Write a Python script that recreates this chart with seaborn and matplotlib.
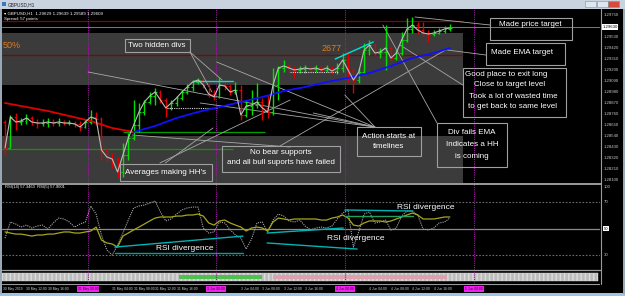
import matplotlib
matplotlib.use("Agg")
import matplotlib.pyplot as plt
from matplotlib.patches import Rectangle
from matplotlib.transforms import blended_transform_factory
import seaborn as sns
import pandas as pd

W, H = 625, 296

# ---------------- data ----------------
bars = list(range(84))
closes = [1.2842, 1.2873, 1.2868, 1.2869, 1.2872, 1.2868, 1.2867, 1.2867, 1.2868, 1.2867,
          1.2868, 1.2867, 1.2867, 1.2866, 1.2863, 1.2868, 1.2873, 1.2871, 1.2840, 1.2833,
          1.2831, 1.2818, 1.2835, 1.2852, 1.2865, 1.2878, 1.2888, 1.2894, 1.2898, 1.2890,
          1.2882, 1.2887, 1.2892, 1.2898, 1.2903, 1.2908, 1.2910, 1.2905, 1.2896, 1.2893,
          1.2905, 1.2904, 1.2898, 1.2900, 1.2875, 1.2884, 1.2885, 1.2888, 1.2882, 1.2878,
          1.2905, 1.2922, 1.2924, 1.2922, 1.2920, 1.2921, 1.2922, 1.2921, 1.2922, 1.2920,
          1.2922, 1.2919, 1.2922, 1.2930, 1.2920, 1.2910, 1.2918, 1.2940, 1.2945, 1.2937,
          1.2938, 1.2942, 1.2932, 1.2937, 1.2950, 1.2961, 1.2965, 1.2960, 1.2957, 1.2956,
          1.2957, 1.2959, 1.2961, 1.2962]
first_open = 1.2868
highs = [1.2870, 1.2875, 1.2877, 1.2872, 1.2876, 1.2874, 1.2871, 1.2871, 1.2872, 1.2871,
         1.2872, 1.2870, 1.2870, 1.2869, 1.2869, 1.2871, 1.2880, 1.2878, 1.2873, 1.2842,
         1.2837, 1.2833, 1.2847, 1.2857, 1.2890, 1.2887, 1.2890, 1.2898, 1.2902, 1.2900,
         1.2892, 1.2890, 1.2894, 1.2900, 1.2906, 1.2910, 1.2912, 1.2912, 1.2908, 1.2900,
         1.2913, 1.2908, 1.2906, 1.2908, 1.2905, 1.2890, 1.2900, 1.2907, 1.2892, 1.2895,
         1.2922, 1.2924, 1.2930, 1.2926, 1.2924, 1.2924, 1.2925, 1.2924, 1.2925, 1.2925,
         1.2925, 1.2924, 1.2927, 1.2937, 1.2938, 1.2922, 1.2922, 1.2947, 1.2950, 1.2947,
         1.2942, 1.2965, 1.2944, 1.2940, 1.2958, 1.2972, 1.2973, 1.2968, 1.2968, 1.2960,
         1.2960, 1.2962, 1.2964, 1.2966]
lows = [1.2835, 1.2842, 1.2860, 1.2865, 1.2866, 1.2865, 1.2862, 1.2864, 1.2863, 1.2864,
        1.2864, 1.2865, 1.2865, 1.2863, 1.2859, 1.2862, 1.2866, 1.2865, 1.2830, 1.2828,
        1.2822, 1.2813, 1.2813, 1.2830, 1.2850, 1.2858, 1.2875, 1.2886, 1.2885, 1.2887,
        1.2873, 1.2880, 1.2884, 1.2890, 1.2896, 1.2899, 1.2906, 1.2902, 1.2893, 1.2890,
        1.2892, 1.2900, 1.2895, 1.2896, 1.2870, 1.2873, 1.2875, 1.2882, 1.2870, 1.2872,
        1.2875, 1.2890, 1.2918, 1.2918, 1.2912, 1.2917, 1.2917, 1.2918, 1.2918, 1.2917,
        1.2918, 1.2916, 1.2916, 1.2918, 1.2908, 1.2897, 1.2907, 1.2917, 1.2935, 1.2934,
        1.2932, 1.2920, 1.2930, 1.2930, 1.2935, 1.2948, 1.2957, 1.2956, 1.2954, 1.2948,
        1.2954, 1.2956, 1.2957, 1.2959]

ma_bars = [0, 4, 8, 12, 16, 20, 24, 28, 32, 36, 40, 44, 48, 52, 56, 60, 64, 68, 72, 76, 80, 83]
ma_vals = [1.2887, 1.2883, 1.2879, 1.2874, 1.2869, 1.2862, 1.2858, 1.2864, 1.2872, 1.2878, 1.2883,
           1.2888, 1.2893, 1.2899, 1.2903, 1.2908, 1.2912, 1.2917, 1.2924, 1.2932, 1.2937, 1.2942]
ma_turn = 24

rsi_slow = [47.4, 46.6, 45.8, 45.8, 45.1, 44.3, 45.1, 45.1, 45.8, 45.8,
            46.6, 47.4, 47.4, 46.6, 46.6, 47.4, 48.1, 51.1, 41.3, 39.1,
            38.3, 36.0, 44.3, 46.6, 48.9, 51.1, 53.4, 55.7, 57.9, 58.7,
            58.7, 58.7, 59.4, 59.4, 60.2, 60.2, 60.9, 59.4, 54.2, 52.6,
            55.7, 56.4, 54.2, 52.6, 51.1, 48.1, 50.4, 51.1, 50.4, 48.1,
            54.9, 57.9, 57.2, 56.4, 57.2, 57.2, 57.2, 57.2, 57.2, 56.4,
            56.4, 57.9, 58.7, 60.2, 57.9, 52.6, 51.9, 54.2, 55.7, 55.7,
            55.7, 54.9, 55.7, 57.2, 58.7, 60.2, 61.7, 60.2, 57.2, 57.2,
            57.2, 57.9, 58.7, 58.7]
rsi_fast = [42.8, 54.9, 53.4, 51.1, 52.6, 50.4, 51.9, 52.6, 49.6, 54.2,
            57.9, 57.2, 54.9, 51.1, 53.4, 54.9, 67.0, 60.9, 45.1, 33.8,
            30.0, 37.5, 46.6, 56.4, 65.5, 67.0, 67.7, 69.2, 70.8, 62.5,
            55.7, 57.2, 60.9, 64.0, 65.5, 66.2, 66.2, 50.4, 46.6, 47.4,
            54.9, 54.2, 49.1, 45.1, 42.8, 34.5, 42.1, 54.2, 54.9, 47.4,
            56.4, 60.9, 59.4, 55.7, 54.9, 56.4, 51.9, 48.9, 50.4, 51.1,
            50.4, 51.9, 57.2, 61.7, 64.0, 36.0, 47.4, 60.9, 62.5, 54.2,
            54.9, 56.4, 48.9, 50.4, 59.4, 63.2, 63.2, 60.2, 49.6, 48.9,
            50.4, 54.2, 54.9, 57.9]
rsi_levels = [70, 50, 30]

zones = [(1.2905, 1.2957), (1.2807, 1.2854)]
zone_end = 85.4
red_levels = [1.2969, 1.2935]
current_price = 1.2963
green_lines = [(22.0, 48.5, 1.2858), (-0.6, 42.5, 1.2841)]
separators = [15.5, 39.4, 63.4, 87.5]
cyan_price = [((35.1, 1.2909), (42.5, 1.2909)), ((61.6, 1.2931), (68.7, 1.2948))]
dotted_support = [((30.2, 1.2882), (39.6, 1.2882)), ((53.2, 1.2918), (62.1, 1.2918))]
trendlines = [((15.5, 1.2918), (69.0, 1.2863)), ((39.5, 1.2928), (69.0, 1.2863)),
              ((34.5, 1.2938), (40.5, 1.2910)), ((34.5, 1.2938), (38.6, 1.2898)),
              ((28.9, 1.2827), (53.2, 1.2890)), ((29.9, 1.2827), (38.8, 1.2862)),
              ((51.3, 1.2844), (82.5, 1.2941)), ((70.5, 1.2965), (80.6, 1.2867)),
              ((36.4, 1.2887), (69.0, 1.2863)), ((63.4, 1.2895), (69.0, 1.2863)),
              ((57.5, 1.2877), (69.0, 1.2863)), ((76.5, 1.2973), (90.5, 1.2965)),
              ((82.5, 1.2940), (89.7, 1.2935)), ((85.4, 1.2905), (73.7, 1.2945)),
              ((23.7, 1.2855), (53.2, 1.2843))]
rsi_div_lines = [((20.5, 36.0), (44.4, 44.3), '#00b4b4'), ((20.5, 31.5), (44.4, 31.5), '#00a0a0'),
                 ((48.9, 46.6), (63.1, 50.4), '#00b4b4'), ((48.9, 39.1), (65.7, 34.5), '#00b4b4'),
                 ((63.4, 64.0), (76.1, 63.2), '#00b4b4'), ((63.4, 59.4), (76.1, 59.4), '#20a060')]

price_ticks = [1.2975, 1.2964, 1.2953, 1.2942, 1.2931, 1.2920, 1.2909, 1.2898,
               1.2887, 1.2876, 1.2865, 1.2854, 1.2843, 1.2832, 1.2821, 1.2810]
date_pos = [-0.4, 4, 8, 20, 24, 28, 32, 44, 48, 52, 56, 68, 72, 76, 80]
date_labels = ["30 May 2019", "30 May 12:00", "30 May 16:00",
               "31 May 04:00", "31 May 08:00", "31 May 12:00", "31 May 16:00",
               "3 Jun 04:00", "3 Jun 08:00", "3 Jun 12:00", "3 Jun 16:00",
               "4 Jun 04:00", "4 Jun 08:00", "4 Jun 12:00", "4 Jun 16:00"]
sep_labels = ["31 May 00:00", "3 Jun 00:00", "4 Jun 00:00", "5 Jun 00:00"]

notes = [((125, 39, 190, 52), [("Two hidden divs", 157, 45.5)]),
         ((490, 18, 572, 40), [("Made price target", 530, 25)]),
         ((486, 43, 565, 65), [("Made EMA target", 522, 53)]),
         ((463, 68, 566, 117), [("Good place to exit long", 506, 74), ("Close to target level", 510, 84),
                                ("Took a lot of wasted time", 513, 96.5), ("to get back to same level", 513, 106)]),
         ((437, 123, 507, 167), [("Div fails EMA", 472, 132), ("Indicates a HH", 472, 144), ("is coming", 472, 156)]),
         ((357, 127, 421, 156), [("Action starts at", 389, 136), ("timelines", 389, 147)]),
         ((222, 146, 340, 172), [("No bear supports", 281, 153), ("and all bull suports have failed", 281, 163)]),
         ((120, 164, 212, 181), [("Averages making HH's", 166, 172.5)])]
rsi_notes = [("RSI divergence", 20.5, 35.0), ("RSI divergence", 52.5, 42.5), ("RSI divergence", 65.5, 66.0)]

# ---------------- style ----------------
sns.set_theme(style="dark", rc={"axes.facecolor": "black", "figure.facecolor": "black",
                                "axes.edgecolor": "black", "axes.grid": False})
plt.rcParams['font.family'] = ['Liberation Sans', 'DejaVu Sans']

fig = plt.figure(figsize=(W / 100, H / 100), dpi=100)
fig.patch.set_facecolor('black')


def rect(x0, y0, x1, y1):
    return [x0 / W, 1 - y1 / H, (x1 - x0) / W, (y1 - y0) / H]


BAR0_PX, BAR_PX = 5.0, 5.36
XL = ((2 - BAR0_PX) / BAR_PX, (600 - BAR0_PX) / BAR_PX)

# ---------------- price panel ----------------
ax = fig.add_axes(rect(2, 9, 600, 184))
ax.set_xlim(*XL)
ax.set_ylim(1.2806, 1.2981)
ax.set_facecolor('black')
for s in ax.spines.values():
    s.set_visible(False)
ax.set_xticks([]); ax.set_yticks([])

for lo, hi in zones:
    ax.add_patch(Rectangle((XL[0], lo), zone_end - XL[0], hi - lo, fc='#3b3b3b', ec='none', zorder=0))
for lv in red_levels:
    ax.hlines(lv, XL[0], zone_end, colors='#8c0000', lw=0.9, zorder=1)
ax.axhline(current_price, color='#7a7a7a', lw=0.7, zorder=1)
for x0, x1, lv in green_lines:
    ax.hlines(lv, x0, x1, colors='#00a000', lw=0.9, zorder=1)
for sx in separators:
    ax.axvline(sx, color='#9b1aa0', lw=0.8, ls=(0, (1, 1)), zorder=1)

opens = [first_open] + closes[:-1]
df = pd.DataFrame({"bar": bars, "open": opens, "high": highs, "low": lows, "close": closes})
up = df["close"] >= df["open"]
cols = ['#00e000' if u else '#e00000' for u in up]
ax.vlines(df["bar"], df["low"], df["high"], colors=cols, lw=1.0, zorder=3)
ax.hlines(df["open"], df["bar"] - 0.35, df["bar"], colors=cols, lw=0.8, zorder=3)
ax.hlines(df["close"], df["bar"], df["bar"] + 0.35, colors=cols, lw=0.8, zorder=3)

for (xa, ya), (xb, yb) in trendlines:
    ax.plot([xa, xb], [ya, yb], color='#a8a8a8', lw=0.6, zorder=2)
for (xa, ya), (xb, yb) in cyan_price:
    ax.plot([xa, xb], [ya, yb], color='#00e0e0', lw=1.0, zorder=4)
for (xa, ya), (xb, yb) in dotted_support:
    ax.plot([xa, xb], [ya, yb], color='#d8d8d8', lw=0.8, ls=(0, (1, 1)), zorder=4)

sns.lineplot(data=df, x="bar", y="close", ax=ax, color='#bdbdbd', lw=0.8, zorder=5, legend=False)
ma = pd.DataFrame({"bar": ma_bars, "ma": ma_vals})
sns.lineplot(data=ma[ma["bar"] <= ma_turn], x="bar", y="ma", ax=ax, color='#e00000', lw=1.3, zorder=4)
sns.lineplot(data=ma[ma["bar"] >= ma_turn], x="bar", y="ma", ax=ax, color='#1010ff', lw=1.3, zorder=4)
ax.set_xlabel(""); ax.set_ylabel("")
ax.set_xlim(*XL); ax.set_ylim(1.2806, 1.2981)

ax.text(-0.5, 1.2945, "50%", color='#e07a20', fontsize=6.5, va='center', ha='left', zorder=6)
ax.text(59.0, 1.2941, "2677", color='#e07a20', fontsize=6.5, va='center', ha='left', zorder=6)
ax.text(0.004, 0.985, "\u25be GBPUSD,H1  1.29629 1.29639 1.29589 1.29609", color='white', fontsize=3.2,
        transform=ax.transAxes, va='top', ha='left')
ax.text(0.004, 0.955, "Spread: 57 points", color='white', fontsize=3.2,
        transform=ax.transAxes, va='top', ha='left')

tr = blended_transform_factory(ax.transAxes, ax.transData)
for p in price_ticks:
    ax.text(1.006, p, f"{p:.5f}", color='#c8c8c8', fontsize=3.1, va='center', ha='left',
            transform=tr, clip_on=False)
ax.text(1.004, current_price, f"{current_price:.5f}", color='black', fontsize=3.1, va='center', ha='left',
        transform=tr, clip_on=False, bbox=dict(boxstyle='square,pad=0.15', fc='white', ec='none'))

# ---------------- RSI panel ----------------
rx = fig.add_axes(rect(2, 184, 600, 270))
rx.set_facecolor('black')
for s in rx.spines.values():
    s.set_visible(False)
for lv in rsi_levels:
    if lv == 50:
        rx.axhline(lv, color='#8a8a8a', lw=0.9)
    else:
        rx.axhline(lv, color='#6a6a6a', lw=0.8, ls=(0, (1.5, 1.5)))
for sx in separators:
    rx.axvline(sx, color='#9b1aa0', lw=0.8, ls=(0, (1, 1)))
rsi_df = pd.DataFrame({"bar": bars, "slow": rsi_slow, "fast": rsi_fast})
sns.lineplot(data=rsi_df, x="bar", y="fast", ax=rx, color='#a8a8a8', lw=0.8, ls=(0, (1, 1)))
sns.lineplot(data=rsi_df, x="bar", y="slow", ax=rx, color='#a6a61c', lw=0.9)
for (xa, ya), (xb, yb), c in rsi_div_lines:
    rx.plot([xa, xb], [ya, yb], color=c, lw=1.0)
for txt, bx, by in rsi_notes:
    rx.text(bx + 7.6, by, txt, color='white', fontsize=6.0, va='center', ha='left')
rx.set_xlim(*XL); rx.set_ylim(18.7, 83.6)
rx.set_xticks([]); rx.set_yticks([]); rx.set_xlabel(""); rx.set_ylabel("")
rx.text(0.005, 0.985, "RSI(14) 57.3463  RSI(5) 57.9001", color='white', fontsize=3.0,
        transform=rx.transAxes, va='top', ha='left')
rtr = blended_transform_factory(rx.transAxes, rx.transData)
for lv in rsi_levels:
    kw = dict(bbox=dict(boxstyle='square,pad=0.15', fc='white', ec='none')) if lv == 50 else {}
    rx.text(1.006, lv, str(lv), color='black' if lv == 50 else '#c8c8c8', fontsize=3.1,
            va='center', ha='left', transform=rtr, clip_on=False, **kw)
rx.text(1.006, 0.97, "100", color='#c8c8c8', fontsize=3.1, va='center', ha='left',
        transform=rx.transAxes, clip_on=False)

# ---------------- lower strip panel ----------------
sx_ax = fig.add_axes(rect(2, 270, 600, 284))
sx_ax.set_facecolor('black')
for s in sx_ax.spines.values():
    s.set_visible(False)
sx_ax.set_xlim(*XL); sx_ax.set_ylim(0, 1)
sx_ax.set_xticks([]); sx_ax.set_yticks([])
sx_ax.add_patch(Rectangle((XL[0], 0.2), XL[1] - XL[0] - 0.3, 0.6, fc='#bdbdbd', ec='#dcdcdc',
                          hatch='||||', lw=0.3))
sx_ax.add_patch(Rectangle((32.5, 0.35), 15.5, 0.3, fc='#50c050', ec='none'))
sx_ax.add_patch(Rectangle((50.0, 0.35), 32.5, 0.3, fc='#e0a0b0', ec='none'))
for sx in separators:
    sx_ax.axvline(sx, color='#9b1aa0', lw=0.8, ls=(0, (1, 1)))

# ---------------- date axis ----------------
dx = fig.add_axes(rect(2, 284, 600, 293))
dx.set_facecolor('black')
for s in dx.spines.values():
    s.set_visible(False)
dx.set_xlim(*XL); dx.set_ylim(0, 1)
dx.set_xticks([]); dx.set_yticks([])
dx.axhline(0.97, color='#9a9a9a', lw=0.8)
for t, lab in zip(date_pos, date_labels):
    dx.text(t, 0.45, lab, color='#d0d0d0', fontsize=2.4, va='center', ha='left')
for sxp, lab in zip(separators, sep_labels):
    dx.text(sxp, 0.45, lab, color='#300030', fontsize=2.4, va='center', ha='center',
            bbox=dict(boxstyle='square,pad=0.25', fc='#f020f0', ec='none'))

# ---------------- overlay (frame, title bar, note boxes) ----------------
ov = fig.add_axes([0, 0, 1, 1])
ov.set_xlim(0, W); ov.set_ylim(H, 0)
ov.axis('off')
ov.set_zorder(20)
ov.add_patch(Rectangle((0, 0), W, 8.5, fc='#c9d3df', ec='none'))
ov.text(8, 4.3, "GBPUSD,H1", color='#202020', fontsize=3.4, va='center', ha='left')
ov.add_patch(Rectangle((2, 2), 4, 4, fc='#3a78c0', ec='none'))
for bx, c in [(585, '#dfe6ee'), (597, '#dfe6ee'), (608, '#d84a3a')]:
    ov.add_patch(Rectangle((bx, 1.2), 11, 6, fc=c, ec='#8090a0', lw=0.4))
ov.add_patch(Rectangle((0, 293), W, 3, fc='#9fc3e3', ec='none'))
ov.add_patch(Rectangle((0, 8.5), 1.6, 285, fc='#9aa7b6', ec='none'))
ov.add_patch(Rectangle((623.4, 8.5), 1.6, 285, fc='#9aa7b6', ec='none'))
ov.plot([600.5, 600.5], [9, 284], color='#9a9a9a', lw=0.8)
ov.plot([2, 600.5], [184, 184], color='#9a9a9a', lw=1.4)
ov.plot([2, 600.5], [270, 270], color='#9a9a9a', lw=0.9)
for (x0, y0, x1, y1), lines in notes:
    ov.add_patch(Rectangle((x0, y0), x1 - x0, y1 - y0, fill=False, ec='#a0a0a0', lw=0.8))
    for txt, tx, ty in lines:
        ov.text(tx, ty, txt, color='white', fontsize=5.8, va='center', ha='center')

fig.savefig("out.png", dpi=100, facecolor='black')
